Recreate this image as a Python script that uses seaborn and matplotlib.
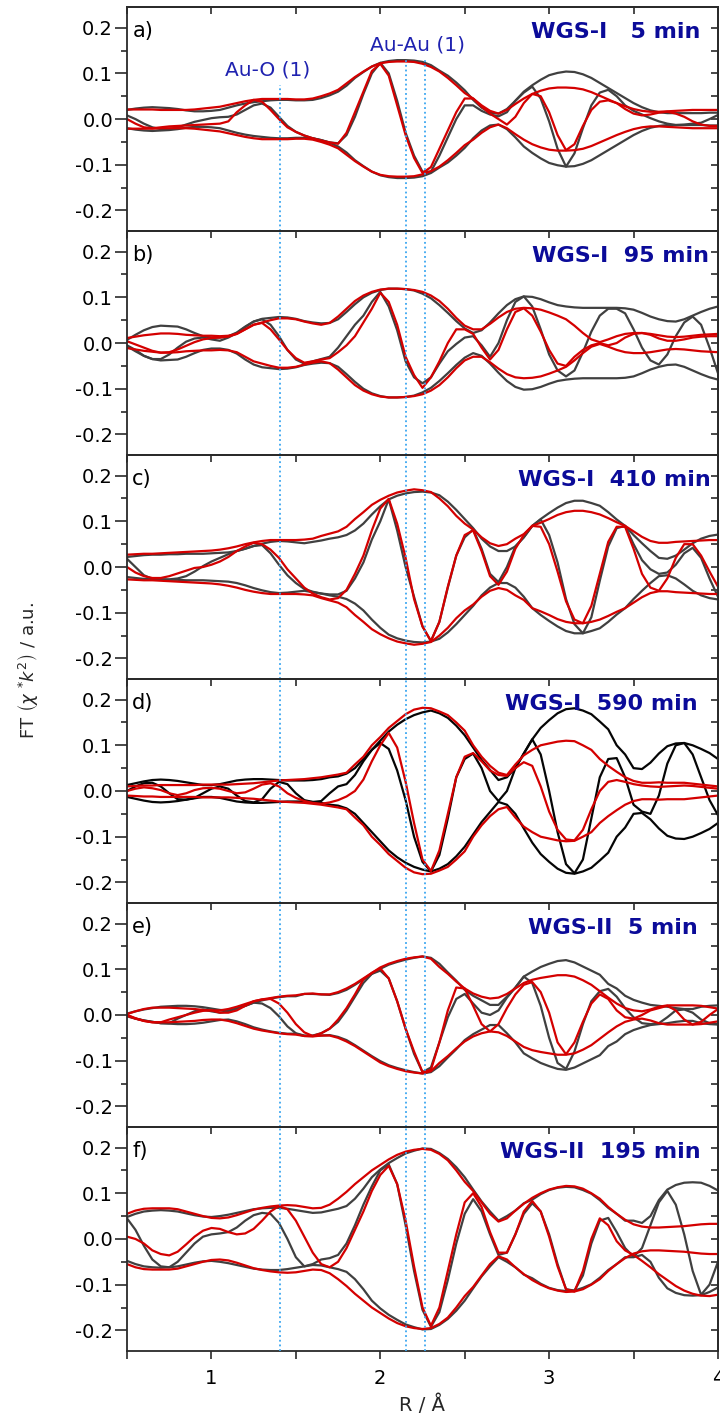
import numpy as np
import pandas as pd
import matplotlib
matplotlib.use("Agg")
import matplotlib.pyplot as plt
from matplotlib.ticker import MultipleLocator, FixedLocator, FormatStrFormatter
import seaborn as sns

# R grid (Angstrom) the curves were read on
r_grid = np.linspace(0.5, 4.0, 71)

# all curve values below are in units of 1e-3
# mag = |FT| envelope (drawn as +/-), im = imaginary part
a_mag_data = [20, 23, 25, 26, 25, 24, 22, 19, 17, 17,
              18, 20, 25, 30, 34, 37, 39, 41, 42, 42,
              41, 41, 42, 46, 52, 60, 73, 90, 103, 115,
              123, 127, 129, 129, 128, 125, 118, 106, 95, 80,
              63, 42, 25, 14, 12, 22, 40, 60, 74, 86,
              96, 101, 104, 103, 98, 90, 79, 68, 57, 46,
              35, 26, 19, 15, 13, 13, 13, 13, 13, 14,
              14]
a_mag_fit = [21, 21, 21, 21, 20, 20, 20, 20, 21, 23,
             25, 27, 31, 35, 39, 42, 44, 44, 44, 44,
             43, 43, 45, 50, 56, 64, 78, 92, 104, 115,
             122, 125, 126, 126, 125, 121, 114, 104, 90, 74,
             57, 45, 30, 18, 12, 20, 33, 45, 55, 62,
             67, 69, 69, 68, 65, 59, 51, 43, 35, 28,
             22, 18, 16, 16, 17, 18, 19, 20, 20, 20,
             20]
a_im_data = [8, 0, -10, -18, -22, -22, -18, -12, -6, -2,
             2, 4, 5, 10, 20, 30, 34, 25, 5, -15,
             -28, -36, -42, -46, -51, -53, -35, 5, 55, 100,
             123, 100, 40, -30, -80, -115, -115, -80, -40, 0,
             30, 30, 18, 10, 6, 15, 40, 58, 71, 45,
             -5, -65, -104, -75, -20, 30, 58, 64, 50, 30,
             18, 10, 2, -5, -10, -13, -12, -10, -8, 0,
             9]
a_im_fit = [0, -10, -18, -20, -18, -16, -15, -14, -13, -12,
            -11, -10, -5, 15, 30, 42, 38, 20, 0, -18,
            -28, -36, -42, -47, -51, -54, -30, 15, 60, 105,
            121, 95, 30, -35, -85, -118, -105, -65, -25, 15,
            45, 45, 27, 12, 0, -12, 5, 35, 55, 50,
            15, -35, -68, -55, -15, 20, 38, 41, 35, 22,
            12, 8, 10, 14, 16, 12, 5, -5, -12, -15,
            -15]

b_mag_data = [7, 18, 28, 35, 38, 37, 36, 30, 22, 15,
              12, 12, 15, 23, 36, 47, 53, 55, 57, 56,
              53, 48, 45, 43, 44, 52, 68, 85, 100, 110,
              116, 119, 119, 118, 115, 108, 98, 83, 66, 48,
              32, 22, 28, 45, 65, 83, 96, 102, 101, 96,
              89, 83, 80, 78, 77, 77, 77, 77, 77, 76,
              73, 66, 58, 52, 48, 47, 52, 60, 68, 75,
              80]
b_mag_fit = [11, 14, 17, 19, 21, 21, 20, 18, 17, 16,
             16, 15, 16, 20, 30, 40, 45, 50, 54, 54,
             52, 47, 43, 40, 44, 58, 75, 92, 104, 112,
             117, 119, 119, 118, 116, 112, 104, 92, 75, 55,
             38, 30, 30, 42, 56, 68, 75, 77, 76, 73,
             67, 60, 52, 38, 22, 8, 2, 8, 15, 20,
             22, 22, 20, 17, 14, 13, 14, 16, 18, 19,
             20]
b_im_data = [-5, -15, -28, -35, -35, -25, -10, 3, 10, 12,
             8, 5, 12, 22, 35, 47, 52, 40, 15, -15,
             -36, -45, -40, -35, -30, -10, 15, 40, 60, 90,
             112, 80, 28, -40, -75, -88, -75, -45, -18, -2,
             12, 15, -5, -30, 0, 50, 90, 102, 80, 30,
             -25, -60, -73, -60, -20, 25, 60, 75, 75, 65,
             30, -10, -38, -47, -25, 15, 45, 58, 40, -10,
             -66]
b_im_fit = [4, -3, -10, -17, -21, -20, -14, -6, 2, 8,
            11, 12, 14, 20, 30, 40, 44, 30, 8, -15,
            -33, -43, -40, -36, -33, -20, -5, 15, 45, 75,
            110, 90, 40, -30, -70, -98, -75, -40, 0, 30,
            30, 20, -10, -36, -15, 30, 68, 76, 60, 25,
            -15, -45, -50, -30, -15, -5, 0, -5, 0, 12,
            20, 22, 18, 10, 5, 5, 8, 12, 14, 15,
            15]

c_mag_data = [22, 24, 26, 27, 27, 28, 28, 29, 29, 29,
              30, 31, 32, 35, 40, 46, 51, 55, 57, 56,
              54, 52, 55, 58, 62, 65, 70, 80, 95, 115,
              133, 148, 156, 161, 164, 165, 163, 157, 143, 125,
              105, 85, 62, 45, 35, 35, 45, 65, 90, 105,
              118, 130, 140, 145, 145, 140, 134, 120, 104, 90,
              70, 52, 35, 20, 18, 25, 38, 52, 62, 68,
              71]
c_mag_fit = [27, 28, 29, 29, 30, 31, 32, 33, 34, 35,
             36, 38, 41, 45, 50, 54, 57, 59, 59, 59,
             59, 60, 62, 68, 73, 78, 88, 105, 120, 136,
             147, 156, 163, 167, 170, 168, 164, 150, 133, 112,
             95, 82, 65, 52, 46, 50, 62, 72, 90, 97,
             105, 114, 120, 123, 123, 120, 115, 107, 98, 90,
             78, 66, 57, 53, 53, 55, 56, 57, 58, 59,
             59]
c_im_data = [18, 0, -18, -26, -27, -27, -25, -20, -10, 2,
             12, 20, 28, 35, 40, 46, 48, 30, 5, -18,
             -35, -48, -54, -58, -60, -60, -52, -25, 10, 60,
             100, 148, 80, 0, -65, -130, -162, -120, -45, 25,
             65, 82, 40, -15, -33, 0, 45, 65, 90, 104,
             70, 10, -70, -125, -145, -110, -30, 45, 85, 90,
             50, 15, -5, -15, -12, 5, 30, 42, 20, -25,
             -65]
c_im_fit = [0, -12, -20, -24, -24, -20, -14, -8, -2, 0,
            5, 12, 22, 35, 45, 53, 50, 38, 20, -5,
            -25, -45, -58, -66, -71, -68, -50, -15, 25, 80,
            128, 149, 95, 20, -70, -130, -162, -120, -43, 25,
            70, 80, 35, -20, -39, -10, 40, 70, 90, 88,
            50, -10, -75, -115, -123, -85, -15, 55, 88, 88,
            40, -15, -45, -52, -25, 20, 50, 50, 25, -10,
            -43]

d_mag_data = [13, 17, 21, 24, 25, 24, 22, 19, 16, 13,
              13, 15, 19, 23, 25, 26, 26, 25, 24, 23,
              23, 23, 24, 26, 30, 32, 38, 50, 70, 90,
              110, 130, 145, 157, 166, 172, 176, 170, 160, 143,
              122, 95, 68, 46, 24, 30, 50, 82, 113, 138,
              155, 170, 179, 181, 176, 168, 152, 135, 100, 80,
              50, 48, 62, 82, 98, 104, 105, 100, 92, 83,
              70]
d_mag_fit = [10, 11, 12, 12, 13, 13, 13, 13, 13, 14,
             14, 14, 14, 15, 16, 17, 19, 21, 23, 24,
             25, 26, 28, 30, 33, 36, 40, 58, 75, 100,
             118, 138, 153, 168, 178, 182, 181, 174, 166, 150,
             132, 100, 75, 55, 40, 35, 58, 78, 90, 100,
             104, 108, 110, 109, 100, 90, 70, 55, 42, 30,
             22, 18, 18, 19, 18, 18, 18, 16, 14, 12,
             10]
d_im_data = [0, 10, 17, 18, 10, -5, -18, -19, -15, -5,
             5, 10, 5, -10, -22, -25, -18, 5, 20, 15,
             -5, -20, -24, -22, -5, 10, 15, 35, 65, 90,
             105, 92, 45, -20, -100, -155, -176, -140, -60, 30,
             70, 82, 50, 0, -22, 0, 50, 82, 113, 80,
             0, -90, -160, -180, -150, -60, 30, 70, 72, 30,
             -30, -45, -50, -10, 60, 100, 105, 80, 30, -20,
             -53]
d_im_fit = [0, 5, 8, 6, 2, -5, -9, -5, 2, 6,
            7, 5, 0, -5, -3, 5, 14, 17, 10, -5,
            -15, -22, -26, -28, -25, -20, -12, 0, 25, 65,
            100, 127, 95, 20, -70, -150, -175, -130, -50, 30,
            75, 83, 65, 45, 35, 33, 50, 63, 55, 10,
            -45, -85, -106, -108, -85, -40, 0, 20, 24, 20,
            15, 12, 10, 9, 10, 11, 12, 11, 9, 7,
            5]

e_mag_data = [3, 8, 12, 15, 18, 19, 20, 20, 19, 17,
              14, 11, 10, 14, 20, 27, 32, 36, 39, 41,
              41, 46, 46, 45, 44, 48, 55, 66, 78, 90,
              101, 110, 116, 121, 125, 128, 125, 112, 93, 75,
              55, 42, 32, 22, 22, 40, 60, 84, 95, 105,
              112, 118, 120, 115, 106, 97, 88, 68, 58, 42,
              33, 27, 22, 20, 18, 15, 13, 13, 18, 20,
              21]
e_mag_fit = [2, 8, 13, 16, 16, 16, 15, 14, 13, 11,
             10, 10, 13, 18, 24, 30, 34, 37, 40, 42,
             43, 46, 47, 45, 45, 50, 58, 68, 80, 92,
             104, 112, 118, 123, 126, 128, 123, 105, 90, 73,
             58, 47, 40, 36, 38, 46, 58, 70, 77, 81,
             84, 87, 87, 84, 76, 66, 52, 38, 25, 15,
             10, 8, 12, 18, 21, 21, 21, 21, 20, 17,
             14]
e_im_data = [0, -8, -12, -15, -18, -18, -8, 0, 8, 12,
             8, 5, 8, 14, 20, 27, 25, 15, -3, -25,
             -40, -45, -45, -40, -30, -15, 10, 40, 70, 90,
             97, 80, 30, -30, -85, -125, -115, -60, -5, 35,
             46, 25, 5, 0, 10, 38, 60, 84, 70, 20,
             -50, -105, -118, -80, -20, 30, 52, 57, 40, 15,
             -5, -18, -20, -18, -5, 10, 12, 5, -10, -18,
             -20]
e_im_fit = [0, -7, -13, -16, -16, -10, -5, 0, 5, 9,
            10, 5, 5, 10, 20, 30, 34, 35, 25, 5,
            -20, -38, -46, -40, -30, -10, 15, 45, 78, 92,
            102, 80, 30, -30, -80, -125, -120, -60, 10, 60,
            58, 20, -20, -36, -20, 15, 45, 66, 72, 50,
            5, -60, -86, -60, -15, 25, 45, 35, 10, -5,
            -8, 0, 10, 15, 20, 10, -10, -21, -15, 0,
            13]

f_mag_data = [48, 55, 60, 62, 63, 62, 60, 56, 52, 49,
              48, 50, 53, 57, 61, 65, 67, 68, 68, 66,
              63, 60, 57, 58, 62, 66, 72, 88, 110, 135,
              152, 166, 177, 187, 193, 198, 197, 188, 175, 157,
              135, 108, 82, 60, 40, 50, 62, 78, 86, 98,
              107, 112, 114, 113, 107, 99, 85, 68, 55, 40,
              40, 35, 50, 85, 108, 118, 123, 124, 123, 116,
              106]
f_mag_fit = [55, 62, 66, 67, 67, 67, 65, 60, 55, 50,
             46, 45, 47, 52, 58, 64, 68, 71, 73, 74,
             73, 70, 67, 68, 75, 88, 103, 120, 135, 150,
             162, 174, 184, 191, 195, 197, 195, 186, 172, 150,
             125, 105, 80, 55, 38, 45, 62, 77, 90, 100,
             108, 113, 116, 115, 110, 100, 88, 70, 55, 42,
             32, 27, 25, 25, 26, 27, 28, 30, 32, 33,
             33]
f_im_data = [45, 20, -15, -45, -60, -62, -50, -30, -10, 5,
             10, 12, 15, 25, 40, 52, 57, 55, 35, 0,
             -40, -60, -55, -45, -42, -35, -10, 30, 75, 115,
             150, 163, 120, 30, -70, -155, -192, -160, -90, -10,
             55, 87, 60, 10, -35, -30, 10, 55, 78, 60,
             10, -55, -110, -113, -80, -10, 40, 46, 15, -20,
             -39, -20, 30, 80, 105, 75, 10, -70, -122, -100,
             -50]
f_im_fit = [5, 0, -10, -25, -33, -36, -28, -12, 5, 18,
            24, 22, 15, 10, 12, 22, 40, 60, 72, 65,
            40, 5, -30, -55, -62, -50, -20, 20, 60, 105,
            140, 160, 120, 40, -60, -150, -190, -150, -70, 10,
            80, 100, 70, 15, -30, -30, 10, 60, 83, 60,
            5, -60, -110, -115, -70, 0, 45, 30, -5, -25,
            -35, -48, -62, -77, -90, -103, -113, -120, -124, -125,
            -122]

panel_letters = ["a)", "b)", "c)", "d)", "e)", "f)"]
panel_titles = ["WGS-I   5 min", "WGS-I  95 min", "WGS-I  410 min",
                "WGS-I  590 min", "WGS-II  5 min", "WGS-II  195 min"]
# dotted guide positions (Angstrom)
au_o_r = 1.405
au_au_r = [2.15, 2.267]

panels = [
    (a_mag_data, a_mag_fit, a_im_data, a_im_fit),
    (b_mag_data, b_mag_fit, b_im_data, b_im_fit),
    (c_mag_data, c_mag_fit, c_im_data, c_im_fit),
    (d_mag_data, d_mag_fit, d_im_data, d_im_fit),
    (e_mag_data, e_mag_fit, e_im_data, e_im_fit),
    (f_mag_data, f_mag_fit, f_im_data, f_im_fit),
]
data_colors = ["#404040", "#404040", "#404040", "#050505", "#404040", "#404040"]
title_x = [0.97, 0.985, 0.987, 0.966, 0.966, 0.97]

RED = "#d40000"
NAVY = "#0b0b99"
BLUE_TXT = "#1f22b0"
GUIDE = "#3aa6f0"
SPINE = "#2a2a2a"


def long_frame(mag_data, mag_fit, im_data, im_fit):
    parts = []
    for kind, mag, im in (("data", mag_data, im_data), ("fit", mag_fit, im_fit)):
        mag = np.asarray(mag) / 1000.0
        im = np.asarray(im) / 1000.0
        for name, vals in (("mag+", mag), ("mag-", -mag), ("im", im)):
            parts.append(pd.DataFrame({"R": r_grid, "value": vals,
                                       "kind": kind, "curve": name}))
    return pd.concat(parts, ignore_index=True)


sns.set_theme(style="ticks")
plt.rcParams["font.family"] = ["DejaVu Sans"]
plt.rcParams["axes.unicode_minus"] = False
plt.rcParams["axes.linewidth"] = 1.3
plt.rcParams["axes.edgecolor"] = SPINE

fig = plt.figure(figsize=(7.2, 14.18), dpi=100)
axes = fig.subplots(6, 1, sharex=True)
fig.subplots_adjust(left=0.1764, right=0.9972, top=0.995, bottom=0.0473, hspace=0)

for i, ax in enumerate(axes):
    df = long_frame(*panels[i])
    sns.lineplot(data=df, x="R", y="value", hue="kind", units="curve",
                 estimator=None, sort=False, hue_order=["data", "fit"],
                 palette={"data": data_colors[i], "fit": RED},
                 linewidth=1.6, legend=False, ax=ax,
                 solid_joinstyle="round", solid_capstyle="round")

    # dotted guides for Au-O and Au-Au distances
    top_o = 0.652 if i == 0 else 1.0
    top_au = 0.773 if i == 0 else 1.0
    ax.axvline(au_o_r, ymax=top_o, color=GUIDE, ls=(0, (1, 1.6)), lw=1.3, zorder=3)
    for xr in au_au_r:
        ax.axvline(xr, ymax=top_au, color=GUIDE, ls=(0, (1, 1.6)), lw=1.3, zorder=3)

    ax.set_xlim(0.5, 4.0)
    ax.set_ylim(-0.245, 0.245)
    ax.set_xlabel("")
    ax.set_ylabel("")
    ax.xaxis.set_major_locator(MultipleLocator(1))
    ax.xaxis.set_minor_locator(MultipleLocator(0.5))
    ax.yaxis.set_major_locator(FixedLocator([-0.2, -0.1, 0.0, 0.1, 0.2]))
    ax.yaxis.set_minor_locator(MultipleLocator(0.05))
    ax.yaxis.set_major_formatter(FormatStrFormatter("%.1f"))
    ax.tick_params(axis="y", which="major", direction="out", length=8.5, width=1.2,
                   pad=1.5, labelsize=14, colors=SPINE, labelcolor="black")
    ax.tick_params(axis="y", which="minor", direction="out", length=4, width=1.2,
                   colors=SPINE)
    ax.tick_params(axis="x", which="both", direction="out", length=6, width=1.2,
                   pad=7, labelsize=14, colors=SPINE, labelcolor="black")
    for sp in ax.spines.values():
        sp.set_visible(True)
        sp.set_linewidth(1.3)
        sp.set_color(SPINE)

    # inward ticks on top and right
    top = ax.secondary_xaxis("top")
    top.xaxis.set_major_locator(MultipleLocator(0.5))
    top.tick_params(direction="in", length=5, width=1.2, labeltop=False, colors=SPINE)
    right = ax.secondary_yaxis("right")
    right.yaxis.set_major_locator(MultipleLocator(0.05))
    right.tick_params(direction="in", length=5, width=1.2, labelright=False, colors=SPINE)

    ax.text(0.009, 0.868, panel_letters[i], transform=ax.transAxes,
            fontsize=15, va="baseline", ha="left", color="black")
    ax.text(title_x[i], 0.862, panel_titles[i], transform=ax.transAxes,
            fontsize=16, fontweight="bold", va="baseline", ha="right", color=NAVY)

axes[0].text(1.33, 0.108, "Au-O (1)", fontsize=14.5, color=BLUE_TXT,
             ha="center", va="center")
axes[0].text(2.22, 0.162, "Au-Au (1)", fontsize=14.5, color=BLUE_TXT,
             ha="center", va="center")

fig.text(0.586, 0.0095, "R / \u00c5", ha="center", va="center", fontsize=14)
fig.text(0.0375, 0.5275, r"FT $\left(\chi\ {}^{*}k^{2}\right)$ / a.u.", rotation=90,
         ha="center", va="center", fontsize=13)

fig.savefig("out.png", dpi=100)
